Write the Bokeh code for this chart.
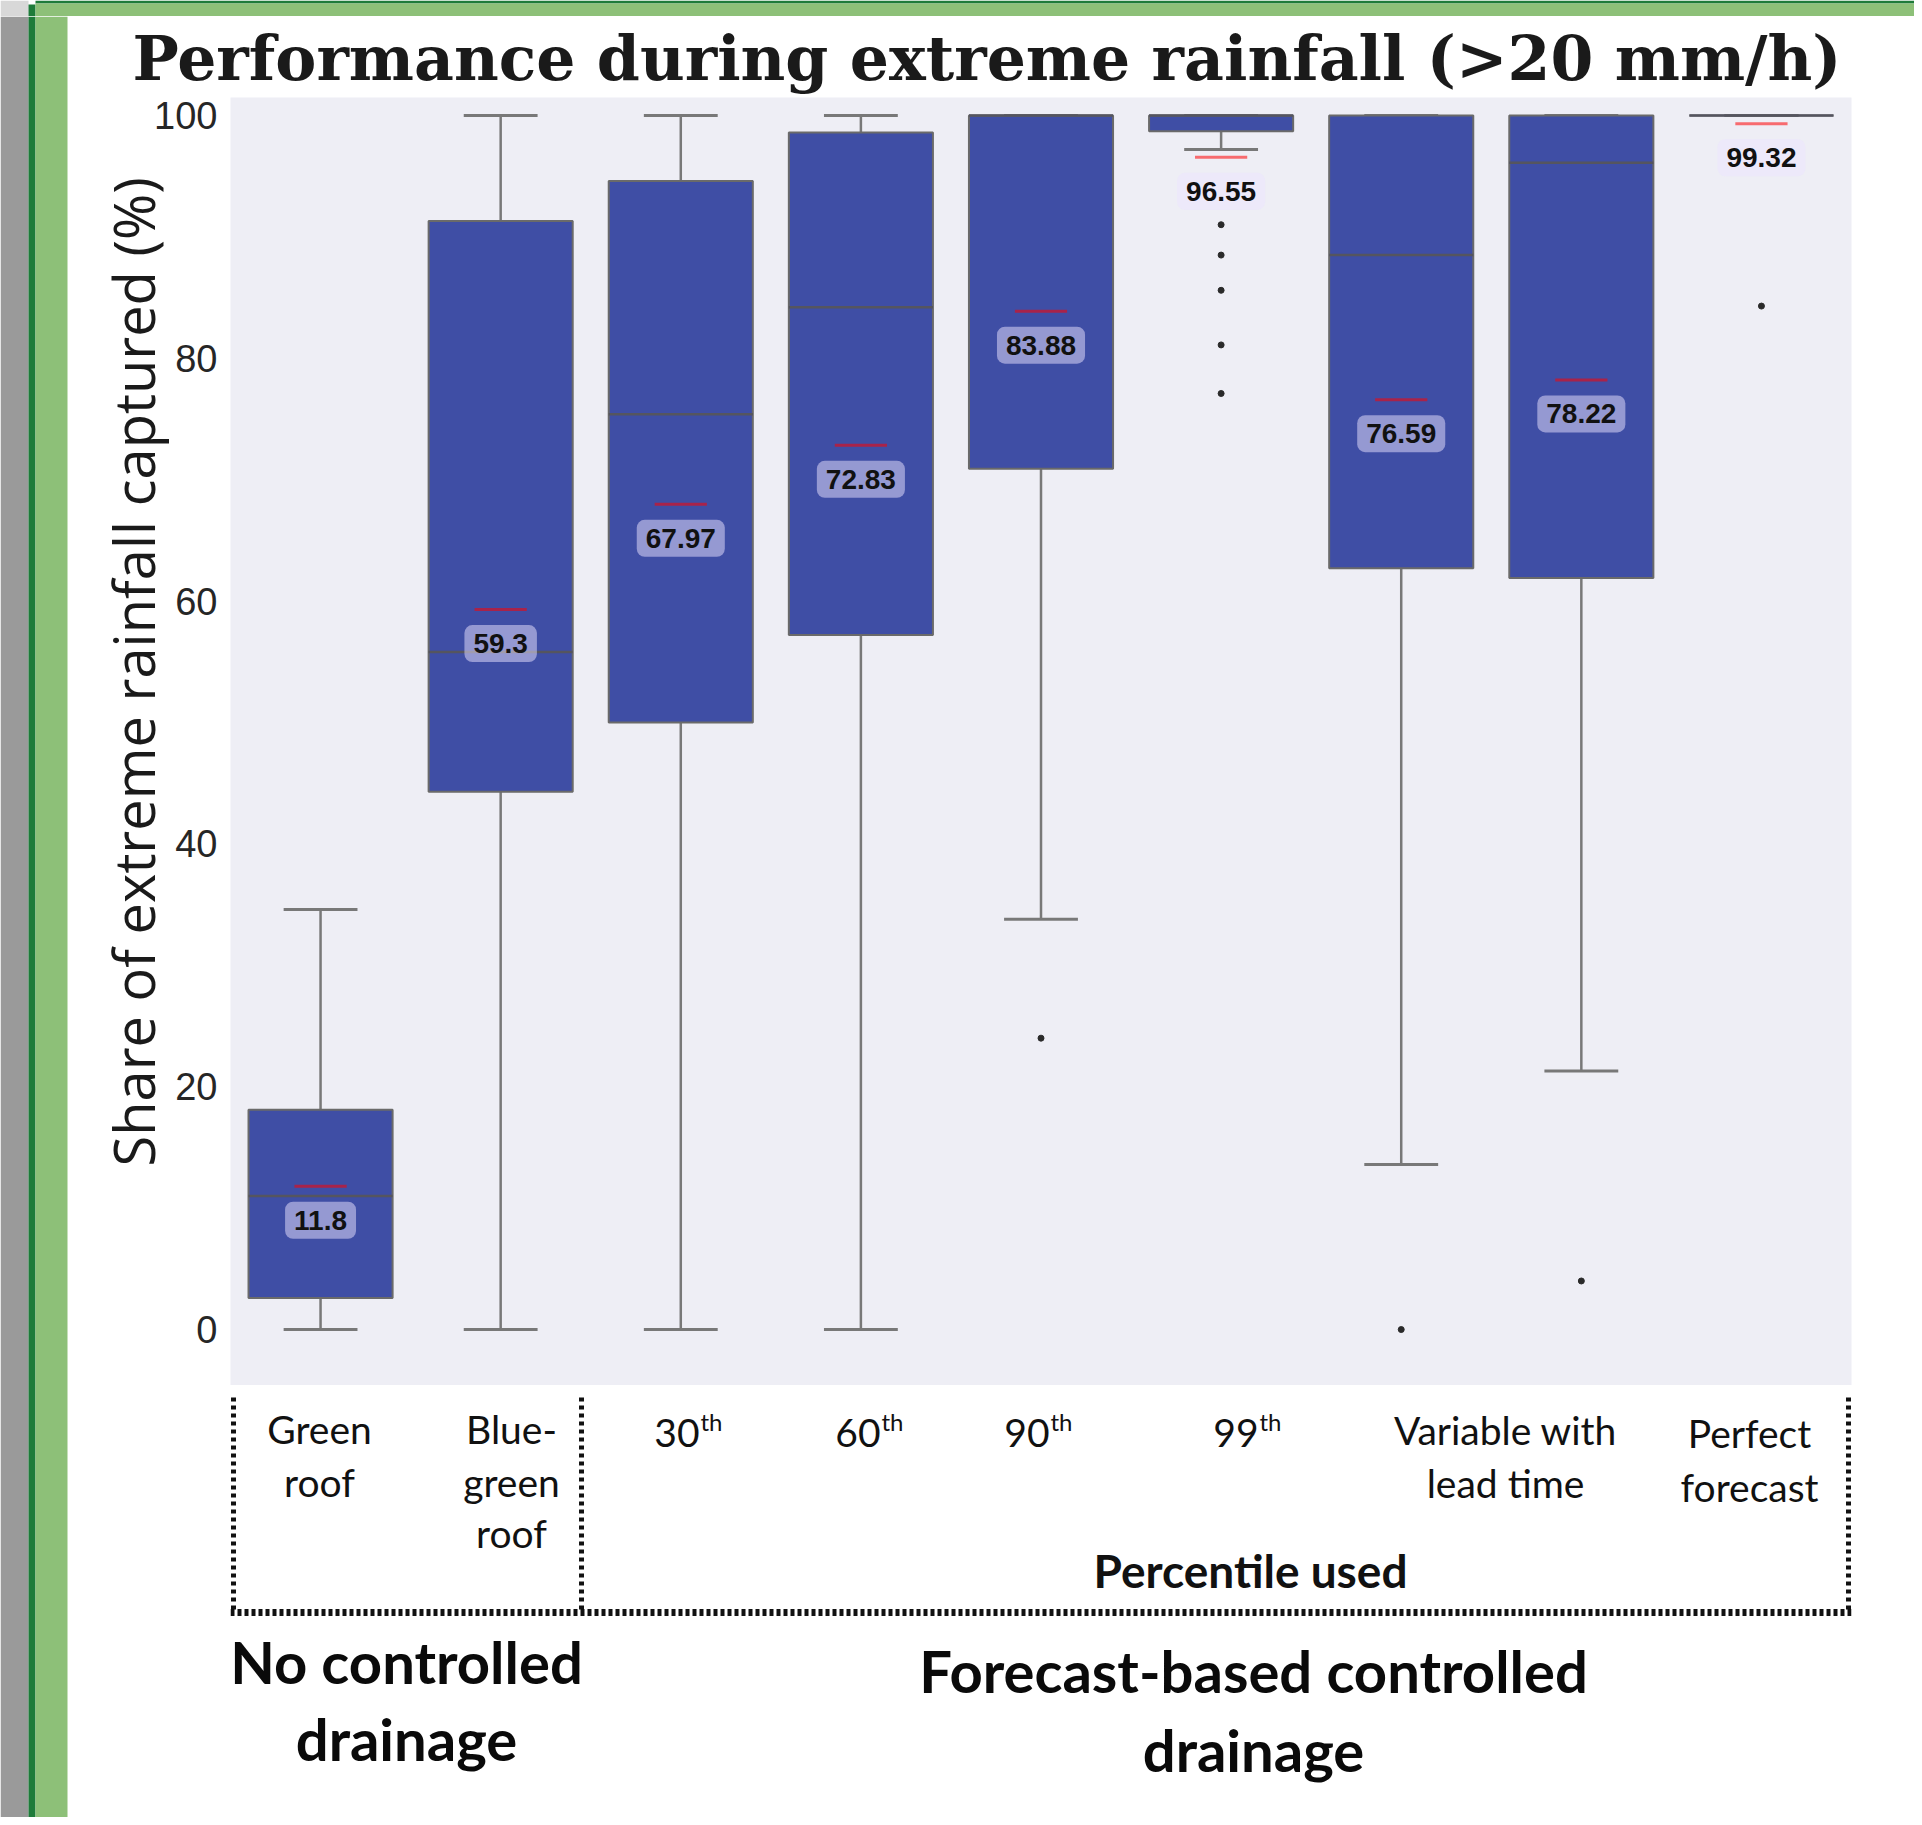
import numpy as np
from bokeh.plotting import figure
from bokeh.models import Range1d, ColumnDataSource, FixedTicker, Title
from bokeh.layouts import column, row
from bokeh.embed import file_html
from bokeh.resources import INLINE
from bokeh.core.properties import value

# ---------------- data ----------------
categories = ["Green roof", "Blue-green roof", "30th", "60th", "90th", "99th",
              "Variable with lead time (a)", "Variable with lead time (b)", "Perfect forecast"]
whisker_low = [0.0, 0.0, 0.0, 0.0, 33.8, 97.2, 13.6, 21.3, 100.0]
q1 = [2.6, 44.3, 50.0, 57.2, 70.9, 98.7, 62.7, 61.9, 100.0]
median = [11.0, 55.8, 75.4, 84.2, 100.0, 100.0, 88.5, 96.1, 100.0]
q3 = [18.1, 91.3, 94.6, 98.6, 100.0, 100.0, 100.0, 100.0, 100.0]
whisker_high = [34.6, 100.0, 100.0, 100.0, 100.0, 100.0, 100.0, 100.0, 100.0]
means = [11.8, 59.3, 67.97, 72.83, 83.88, 96.55, 76.59, 78.22, 99.32]
outlier_cat = ["90th", "99th", "99th", "99th", "99th", "99th",
               "Variable with lead time (a)", "Variable with lead time (b)", "Perfect forecast"]
outlier_val = [24.0, 91.0, 88.5, 85.6, 81.1, 77.1, 0.0, 4.0, 84.3]
y_ticks = [0, 20, 40, 60, 80, 100]

title_text = "Performance during extreme rainfall (>20 mm/h)"
y_label = "Share of extreme rainfall captured (%)"

# ---------------- geometry / styling ----------------
BOX_COLOR = "#3f4ea5"
BG = "#eeeef5"
DARK_GREEN = "#1e7b3a"
LIGHT_GREEN = "#8dc078"
GRAY = "#9a9a9a"
W_LEFT, W_MAIN = 70, 1844
H_TOP, H_A, H_B = 16, 1369, 432
FRAME_L, FRAME_R, FRAME_T, FRAME_B = 230, 1851, 96, 1385

pos = np.arange(len(categories), dtype=float)
idx = {c: i for i, c in enumerate(categories)}
out_pos = [float(idx[c]) for c in outlier_cat]

src = ColumnDataSource(dict(
    x=pos, lo=whisker_low, q1=q1, med=median, q3=q3, hi=whisker_high, mean=means,
    cap_l=pos - 0.205, cap_r=pos + 0.205,
    box_l=pos - 0.4, box_r=pos + 0.4,
    mean_l=pos - 0.145, mean_r=pos + 0.145,
    lab=["{:g}".format(m) for m in means],
))

pA = figure(width=W_MAIN, height=H_A, x_range=Range1d(-0.5, 8.5), y_range=Range1d(-4.61, 101.48),
            output_backend="svg", toolbar_location=None,
            min_border_left=FRAME_L - W_LEFT, min_border_right=W_LEFT + W_MAIN - FRAME_R,
            min_border_top=FRAME_T - H_TOP, min_border_bottom=0)
pA.xaxis.visible = False
pA.background_fill_color = BG
pA.border_fill_color = "white"
pA.outline_line_color = None
pA.xgrid.grid_line_color = None
pA.ygrid.grid_line_color = None
pA.yaxis.ticker = FixedTicker(ticks=y_ticks)
pA.yaxis.axis_line_color = None
pA.yaxis.major_tick_line_color = None
pA.yaxis.minor_tick_line_color = None
pA.yaxis.major_label_standoff = 7
pA.yaxis.major_label_text_font = "Liberation Sans"
pA.yaxis.major_label_text_font_size = "38px"
pA.yaxis.major_label_text_color = "#262626"

# title
pA.title.text = title_text
pA.title.align = "left"
pA.title.offset = 132 - FRAME_L
pA.title.standoff = 6
pA.title.text_font = "DejaVu Serif"
pA.title.text_font_style = "bold"
pA.title.text_font_size = "61.6px"
pA.title.text_color = "#1a1a1a"

# y-axis title, placed along the left side where the reference has it
YLAB_LEN = 990
ylab = Title(text=y_label, align="left", offset=FRAME_B - (671 + YLAB_LEN / 2),
             standoff=0, text_font="Open Sans", text_font_style="normal",
             text_font_size="56px", text_color="#1a1a1a")
try:
    ylab.standoff = -38
except Exception:
    ylab.standoff = 0
pA.add_layout(ylab, "left")

WH = "#787878"
pA.segment(x0="x", y0="hi", x1="x", y1="q3", source=src, line_color=WH, line_width=2.5)
pA.segment(x0="x", y0="q1", x1="x", y1="lo", source=src, line_color=WH, line_width=2.5)
pA.segment(x0="cap_l", y0="hi", x1="cap_r", y1="hi", source=src, line_color=WH, line_width=3)
pA.segment(x0="cap_l", y0="lo", x1="cap_r", y1="lo", source=src, line_color=WH, line_width=3)
pA.vbar(x="x", width=0.8, bottom="q1", top="q3", source=src,
        fill_color=BOX_COLOR, line_color="#6a6a6a", line_width=2)
pA.segment(x0="box_l", y0="med", x1="box_r", y1="med", source=src, line_color="#55555f", line_width=2.5)
pA.segment(x0="mean_l", y0="mean", x1="mean_r", y1="mean", source=src,
           line_color="red", line_alpha=0.55, line_width=3)
pA.scatter(x=out_pos, y=outlier_val, size=6, color="#2a2a2a")
pA.text(x="x", y="mean", text="lab", source=src, y_offset=34,
        text_align="center", text_baseline="middle",
        text_font=value("Liberation Sans"), text_font_style="bold", text_font_size="28px",
        text_color="#111111",
        background_fill_color="#ece4ff", background_fill_alpha=0.5,
        padding=9, border_radius=8)

# ---------------- bottom annotation band (frame aligned with the plot frame) ----------------
pB = figure(width=W_MAIN, height=H_B, x_range=Range1d(FRAME_L, FRAME_R), y_range=Range1d(1817, FRAME_B),
            output_backend="svg", toolbar_location=None, x_axis_type=None, y_axis_type=None,
            min_border_left=FRAME_L - W_LEFT, min_border_right=W_LEFT + W_MAIN - FRAME_R,
            min_border_top=0, min_border_bottom=0)
pB.outline_line_color = None
pB.grid.grid_line_color = None
pB.background_fill_color = "white"
pB.border_fill_color = "white"

TXT = "#111111"
cat_lines = [("Green", 319, 1428), ("roof", 319, 1481),
             ("Blue-", 511, 1428), ("green", 511, 1481), ("roof", 511, 1532),
             ("Variable with", 1505, 1429), ("lead time", 1505, 1482),
             ("Perfect", 1749, 1432), ("forecast", 1749, 1486)]
pB.text(x=[c[1] for c in cat_lines], y=[c[2] for c in cat_lines], text=[c[0] for c in cat_lines],
        text_align="center", text_baseline="middle", text_font=value("Lato"),
        text_font_size="39px", text_color=TXT)
pct = [("30", 699), ("60", 880), ("90", 1049), ("99", 1258)]
pB.text(x=[p[1] for p in pct], y=[1432] * 4, text=[p[0] for p in pct],
        text_align="right", text_baseline="middle", text_font=value("Lato"),
        text_font_size="39px", text_color=TXT)
pB.text(x=[p[1] + 1 for p in pct], y=[1421] * 4, text=["th"] * 4,
        text_align="left", text_baseline="middle", text_font=value("Lato"),
        text_font_size="24px", text_color=TXT)
pB.text(x=[1250], y=[1570], text=["Percentile used"], text_align="center", text_baseline="middle",
        text_font=value("Lato"), text_font_style="bold", text_font_size="46px", text_color=TXT)
grp = [("No controlled", 406, 1661), ("drainage", 406, 1738),
       ("Forecast-based controlled", 1253, 1670), ("drainage", 1253, 1749)]
pB.text(x=[g[1] for g in grp], y=[g[2] for g in grp], text=[g[0] for g in grp],
        text_align="center", text_baseline="middle", text_font=value("Lato"),
        text_font_style="bold", text_font_size="58px", text_color="#0a0a0a")
pB.multi_line(xs=[[FRAME_L + 3, FRAME_L + 3], [581, 581], [FRAME_R - 3, FRAME_R - 3]],
              ys=[[1397, 1612]] * 3, line_color=TXT, line_width=5, line_dash="4 4")
pB.multi_line(xs=[[FRAME_L, FRAME_R]], ys=[[1612, 1612]], line_color=TXT, line_width=7, line_dash="4 3")

# ---------------- decoration (poster frame) ----------------
deco = figure(width=W_LEFT, height=H_A + H_B, x_range=Range1d(0, W_LEFT), y_range=Range1d(1817, H_TOP),
              output_backend="svg", toolbar_location=None, x_axis_type=None, y_axis_type=None,
              min_border=0)
deco.outline_line_color = None
deco.grid.grid_line_color = None
deco.background_fill_color = "white"
deco.border_fill_color = "white"
deco.quad(left=[0, 28, 35], right=[28, 35, 67], top=[H_TOP] * 3, bottom=[1817] * 3,
          fill_color=[GRAY, DARK_GREEN, LIGHT_GREEN], line_color=None)

top = figure(width=W_LEFT + W_MAIN, height=H_TOP, x_range=Range1d(0, W_LEFT + W_MAIN),
             y_range=Range1d(H_TOP, 0),
             output_backend="svg", toolbar_location=None, x_axis_type=None, y_axis_type=None,
             min_border=0)
top.outline_line_color = None
top.grid.grid_line_color = None
top.background_fill_color = "white"
top.border_fill_color = "white"
top.quad(left=[0, 28, 35, 35], right=[28, 35, W_LEFT + W_MAIN, W_LEFT + W_MAIN],
         top=[0, 4, 0, 3], bottom=[H_TOP, H_TOP, 3, H_TOP],
         fill_color=["#d8d8d8", DARK_GREEN, DARK_GREEN, LIGHT_GREEN], line_color=None)

layout = column(top, row(deco, column(pA, pB, spacing=0), spacing=0), spacing=0)

with open("out.html", "w") as f:
    f.write(file_html(layout, INLINE))
